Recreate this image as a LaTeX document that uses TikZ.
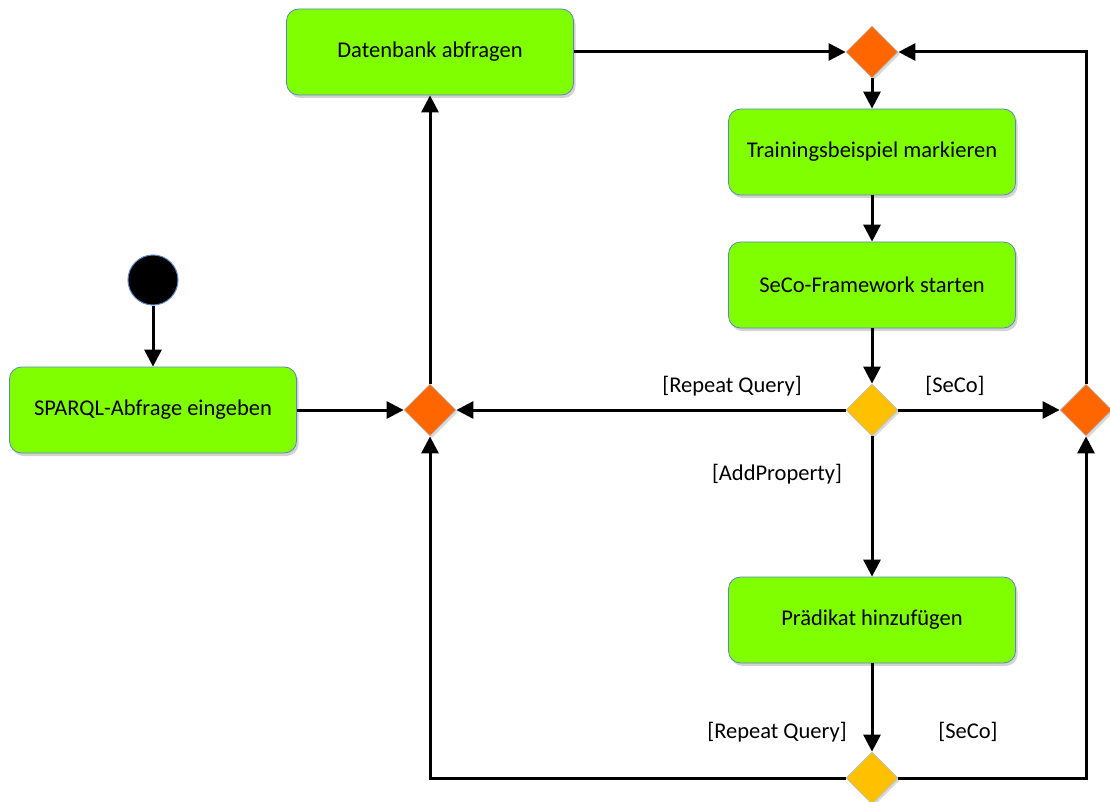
\documentclass[tikz,border=0pt]{standalone}
\usepackage{fontspec}
\setmainfont{Carlito}
\usetikzlibrary{arrows.meta,shapes.geometric,shadows}
\definecolor{actgreen}{HTML}{80FF00}
\definecolor{actborder}{HTML}{5B85C8}
\definecolor{mergeorange}{HTML}{FF6600}
\definecolor{decyellow}{HTML}{FFC000}
\tikzset{
  action/.style={draw=actborder, line width=0.8pt, fill=actgreen, rounded corners=12pt,
    minimum width=287pt, minimum height=86pt, inner sep=0pt, font=\fontsize{22.5}{27}\selectfont,
    drop shadow={shadow xshift=2pt, shadow yshift=-3pt, opacity=0.35}},
  merge/.style={diamond, draw=gray!50, line width=0.8pt, fill=mergeorange, minimum width=52pt,
    minimum height=52pt, inner sep=0pt,
    drop shadow={shadow xshift=2pt, shadow yshift=-2pt, opacity=0.3}},
  decision/.style={merge, fill=decyellow},
  startnode/.style={circle, fill=black, draw=actborder, line width=1pt,
    minimum size=50pt, inner sep=0pt},
  flow/.style={line width=3pt, -{Triangle[length=17pt,width=17pt]}},
  guard/.style={font=\fontsize{22.5}{27}\selectfont, inner sep=0pt}
}
\begin{document}
\begin{tikzpicture}[x=1pt, y=-1pt]
\useasboundingbox (0,0) rectangle (1110,802);

% activities
\node[action] (db) at (430,52) {Datenbank abfragen};
\node[action] (tr) at (872,152) {Trainingsbeispiel markieren};
\node[action] (sf) at (872,285) {SeCo-Framework starten};
\node[action] (sq) at (153,410) {SPARQL-Abfrage eingeben};
\node[action] (pr) at (872,620) {Prädikat hinzufügen};

% start node
\node[startnode] (st) at (153,280) {};

% merge and decision nodes
\node[merge] (mt) at (872,52) {};
\node[merge] (ml) at (430,410) {};
\node[merge] (mr) at (1086,410) {};
\node[decision] (dm) at (872,410) {};
\node[decision] (db2) at (872,778) {};

% control flow
\draw[flow] (st) -- (sq);
\draw[flow] (sq) -- (ml);
\draw[flow] (ml) -- (db);
\draw[flow] (db) -- (mt);
\draw[flow] (mt) -- (tr);
\draw[flow] (tr) -- (sf);
\draw[flow] (sf) -- (dm);
\draw[flow] (dm) -- (ml);
\draw[flow] (dm) -- (mr);
\draw[flow] (dm) -- (pr);
\draw[flow] (pr) -- (db2);
\draw[flow] (db2.west) -| (ml.south);
\draw[flow] (db2.east) -| (mr.south);
\draw[flow] (mr.north) |- (mt.east);

% guards
\node[guard] (g1) at (732,386) {[Repeat Query]};
\node[guard] (g2) at (955,386) {[SeCo]};
\node[guard] (g3) at (777,474) {[AddProperty]};
\node[guard] (g4) at (777,732) {[Repeat Query]};
\node[guard] (g5) at (968,732) {[SeCo]};
\end{tikzpicture}
\end{document}
